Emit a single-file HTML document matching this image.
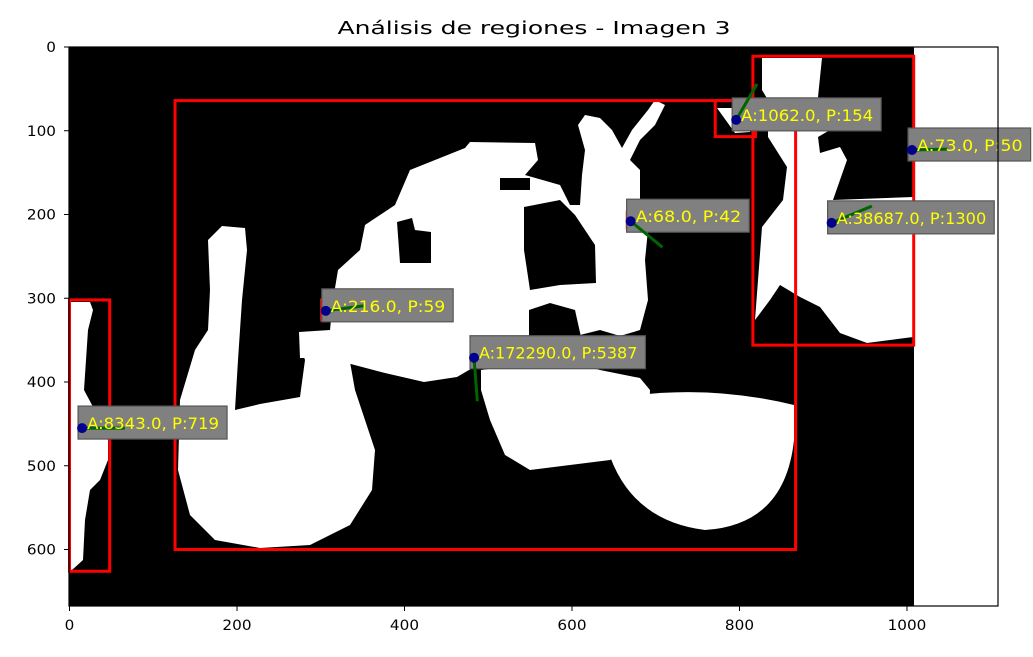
<!DOCTYPE html>
<html><head><meta charset="utf-8"><style>
body{margin:0;background:#fff;}
svg{display:block;font-family:"DejaVu Sans","Liberation Sans",sans-serif;}
</style></head><body>
<svg id="chart" width="1033" height="657" viewBox="0 0 1033 657">
<rect width="1033" height="657" fill="#fff"/>
<text x="534" y="34" text-anchor="middle" font-size="18" textLength="393" lengthAdjust="spacingAndGlyphs" fill="#000">Análisis de regiones - Imagen 3</text>
<defs><clipPath id="axclip"><rect x="69" y="47" width="929" height="559"/></clipPath></defs>
<g clip-path="url(#axclip)">
<rect x="69" y="47" width="845" height="559" fill="#000"/>
<g fill="#fff">
<polygon points="70,302 90,302 93,310 88,330 86,360 84,390 92,405 100,420 108,440 108,460 100,480 90,490 85,520 83,560 72,570 70,570"/>
<polygon points="180,400 195,350 208,330 210,290 208,240 222,226 245,228 247,250 242,300 238,360 235,410 260,404 300,397 305,360 300,345 345,340 350,362 355,390 365,420 375,450 372,490 350,525 310,545 260,548 215,540 190,515 178,470"/>
<polygon points="333,300 338,270 360,250 365,225 395,205 410,170 465,148 470,142 535,143 538,160 525,175 560,185 570,205 580,205 582,175 585,150 578,125 585,115 600,118 612,130 622,148 632,130 648,110 655,100 665,105 655,125 640,140 630,160 640,170 640,200 648,230 645,260 648,300 640,330 620,336 600,330 580,335 560,330 540,330 525,337 500,340 490,360 481,363 457,377 424,382 385,373 347,363 330,358 300,358 299,332 330,330"/>
<polygon points="481,370 520,365 560,360 600,370 640,378 650,390 648,440 610,460 570,465 530,470 505,455 490,420 481,390"/>
<path d="M605,400 Q700,382 794,405 L794,440 Q785,525 705,530 Q625,520 605,440 Z"/>
<polygon points="762,58 822,58 818,97 830,105 830,130 818,137 820,153 840,147 847,160 840,180 833,200 913,197 913,337 867,343 840,333 820,307 800,297 780,285 770,300 755,320 762,227 783,200 787,167 768,137 768,100 762,90"/>
<polygon points="717,108 745,108 750,132 735,133"/>
</g>
<g fill="#000">
<polygon points="397,222 412,218 415,230 431,232 431,263 400,263"/>
<polygon points="524,207 560,200 575,215 595,245 596,283 560,285 530,290 524,250"/>
<polygon points="529,310 550,303 575,310 581,337 529,337"/>
<rect x="500" y="178" width="30" height="12"/>
</g>
</g>
<g id="overlay"></g>
<rect x="69" y="47" width="929" height="559" fill="none" stroke="#000" stroke-width="1.2"/>
<g id="axes" font-size="14" fill="#000"></g>
</svg>
<script>
const cx = [15, 306, 483, 670, 796, 910, 1006];
const cy = [455, 315, 371, 208, 87, 210, 123];
const areas = ["8343.0", "216.0", "172290.0", "68.0", "1062.0", "38687.0", "73.0"];
const perims = [719, 59, 5387, 42, 154, 1300, 50];
const boxX = [0, 301, 126, 666, 771, 816, 1005];
const boxY = [302, 302, 64, 197, 64, 11, 107];
const boxW = [48, 12, 741, 11, 48, 192, 5];
const boxH = [324, 24, 536, 19, 43, 345, 28];
const endX = [66, 352, 487, 708, 821, 958, 1048];
const endY = [455, 309, 423, 239, 44, 190, 122];
const xTicks = [0, 200, 400, 600, 800, 1000];
const yTicks = [0, 100, 200, 300, 400, 500, 600];

const K = 0.8375;
const sx = d => 69.5 + d * K;
const sy = d => 47 + d * K;
const NS = "http://www.w3.org/2000/svg";
const ov = document.getElementById('overlay');
const ax = document.getElementById('axes');
function mk(tag, attrs, parent) {
  const e = document.createElementNS(NS, tag);
  for (const k in attrs) e.setAttribute(k, attrs[k]);
  parent.appendChild(e);
  return e;
}
for (let i = 0; i < cx.length; i++) {
  const r = mk('rect', {x: sx(boxX[i]), y: sy(boxY[i]), width: boxW[i] * K, height: boxH[i] * K, fill: 'none', stroke: '#ff0000', 'stroke-width': 3}, ov);
  
  
}
for (let i = 0; i < cx.length; i++) {
  const px = sx(cx[i]), py = sy(cy[i]);
  const txt = 'A:' + areas[i] + ', P:' + perims[i];
  const w = txt.length * 8.8;
  const b = mk('rect', {x: px - 4, y: py - 22, width: w + 17, height: 33, fill: '#808080', stroke: '#555', 'stroke-width': 1.2}, ov);
  
  
  const l = mk('line', {x1: px, y1: py, x2: sx(endX[i]), y2: sy(endY[i]), stroke: '#006400', 'stroke-width': 3}, ov);
  
  
  const c = mk('circle', {cx: px, cy: py, r: 5, fill: '#00008b'}, ov);
  
  
  const t = mk('text', {x: px + 5, y: py + 1, 'font-size': 16, fill: '#ffff00', textLength: w, lengthAdjust: 'spacingAndGlyphs'}, ov);
  t.textContent = txt;
  
  
}
xTicks.forEach(v => {
  const x = sx(v);
  const tk = mk('line', {x1: x, y1: 606, x2: x, y2: 611, stroke: '#000'}, ax);
  
  
  const s = String(v);
  const t = mk('text', {x: x, y: 630, 'text-anchor': 'middle', textLength: s.length * 9.7, lengthAdjust: 'spacingAndGlyphs'}, ax);
  t.textContent = s;
  
  
});
yTicks.forEach(v => {
  const y = sy(v);
  const tk = mk('line', {x1: 64, y1: y, x2: 69, y2: y, stroke: '#000'}, ax);
  
  
  const s = String(v);
  const t = mk('text', {x: 56, y: y + 5, 'text-anchor': 'end', textLength: s.length * 9.7, lengthAdjust: 'spacingAndGlyphs'}, ax);
  t.textContent = s;
  
  
});
</script>
</body></html>
